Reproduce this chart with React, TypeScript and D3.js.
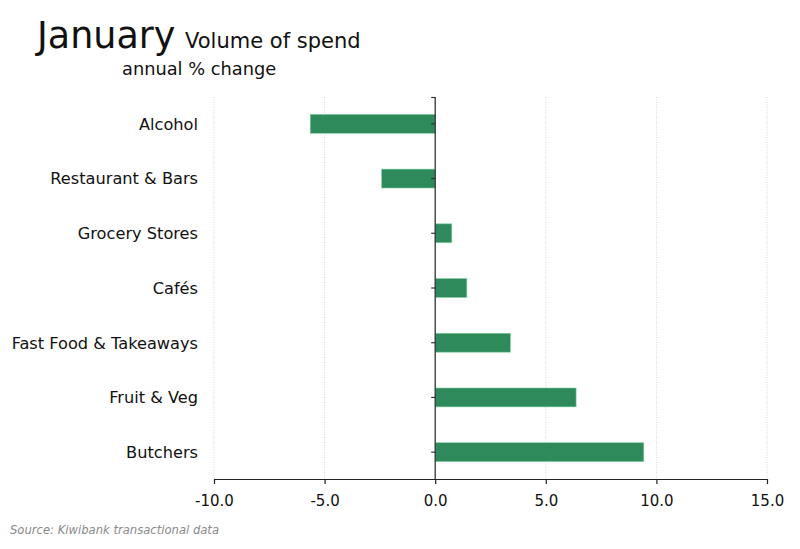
import React, { useRef, useEffect } from "react";
import * as d3 from "d3";

// data
const categories = [
  "Alcohol",
  "Restaurant & Bars",
  "Grocery Stores",
  "Cafés",
  "Fast Food & Takeaways",
  "Fruit & Veg",
  "Butchers",
];
const values = [-5.65, -2.42, 0.75, 1.43, 3.4, 6.37, 9.43];
const xTicks = [-10, -5, 0, 5, 10, 15];

const FONT = "'Century Gothic', 'DejaVu Sans', sans-serif";
const BAR = "#2e8a5b";

export default function App() {
  const svgRef = useRef<SVGSVGElement>(null);

  useEffect(() => {
    if (!svgRef.current) return;
    const svg = d3.select(svgRef.current);
    svg.selectAll("*").remove();

    const width = 800;
    const margin = { top: 97, right: 33, left: 214 };
    const innerW = width - margin.left - margin.right;
    const innerH = 382;

    const x = d3.scaleLinear().domain([-10, 15]).range([0, innerW]);
    const y = d3
      .scaleBand<string>()
      .domain(categories)
      .range([0, innerH])
      .paddingInner(0.655)
      .paddingOuter(0.318);

    svg.attr("font-family", FONT);

    // titles
    svg
      .append("text")
      .attr("x", 37)
      .attr("y", 48)
      .attr("font-size", 36.5)
      .attr("fill", "#111")
      .text("January");
    svg
      .append("text")
      .attr("x", 185)
      .attr("y", 48)
      .attr("font-size", 21)
      .attr("fill", "#111")
      .text("Volume of spend");
    svg
      .append("text")
      .attr("x", 122)
      .attr("y", 75)
      .attr("font-size", 17.8)
      .attr("fill", "#111")
      .text("annual % change");

    const g = svg
      .append("g")
      .attr("transform", `translate(${margin.left},${margin.top})`);

    // dotted gridlines
    g.selectAll(".grid")
      .data(xTicks.filter((t) => t !== 0))
      .enter()
      .append("line")
      .attr("x1", (d) => x(d))
      .attr("x2", (d) => x(d))
      .attr("y1", 0)
      .attr("y2", innerH)
      .attr("stroke", "#d6d6d6")
      .attr("stroke-width", 1)
      .attr("stroke-dasharray", "1,1.5");

    // bars
    g.selectAll(".bar")
      .data(values)
      .enter()
      .append("rect")
      .attr("x", (d) => x(Math.min(0, d)))
      .attr("y", (d, i) => y(categories[i])!)
      .attr("width", (d) => Math.abs(x(d) - x(0)))
      .attr("height", y.bandwidth())
      .attr("fill", BAR)
      .attr("stroke", "#7fcf9f")
      .attr("stroke-width", 0.6);

    // x axis
    const fmt = d3.format(".1f");
    const xAxis = d3
      .axisBottom(x)
      .tickValues(xTicks)
      .tickSize(5)
      .tickSizeOuter(0)
      .tickFormat((d) => fmt(d as number).replace("\u2212", "-"));
    const ax = g
      .append("g")
      .attr("transform", `translate(0,${innerH})`)
      .call(xAxis);
    ax.select(".domain").attr("stroke", "#222").attr("stroke-width", 1.2);
    ax.selectAll(".tick line").attr("stroke", "#222").attr("stroke-width", 1.2);
    ax.selectAll(".tick text")
      .attr("font-family", FONT)
      .attr("font-size", 15)
      .attr("fill", "#111")
      .attr("y", 11)
      .attr("dy", "1.05em");

    // y axis at zero
    const zeroG = g.append("g").attr("transform", `translate(${x(0)},0)`);
    zeroG
      .append("line")
      .attr("y1", 0)
      .attr("y2", innerH)
      .attr("stroke", "#333")
      .attr("stroke-width", 1.3);
    zeroG
      .append("line")
      .attr("x1", -4)
      .attr("x2", 0)
      .attr("y1", 0.5)
      .attr("y2", 0.5)
      .attr("stroke", "#333")
      .attr("stroke-width", 1.2);
    zeroG
      .selectAll(".ytick")
      .data(categories)
      .enter()
      .append("line")
      .attr("x1", -4)
      .attr("x2", 0)
      .attr("y1", (d) => y(d)! + y.bandwidth() / 2)
      .attr("y2", (d) => y(d)! + y.bandwidth() / 2)
      .attr("stroke", "#333")
      .attr("stroke-width", 1.2);

    // category labels
    g.selectAll(".cat")
      .data(categories)
      .enter()
      .append("text")
      .attr("x", -16)
      .attr("y", (d) => y(d)! + y.bandwidth() / 2)
      .attr("dy", "0.36em")
      .attr("text-anchor", "end")
      .attr("font-size", 16.2)
      .attr("fill", "#111")
      .text((d) => d);

    // source
    svg
      .append("text")
      .attr("x", 10)
      .attr("y", 534)
      .attr("font-size", 11.6)
      .attr("font-style", "italic")
      .attr("fill", "#8a8a8a")
      .text("Source: Kiwibank transactional data");
  }, []);

  return (
    <svg
      ref={svgRef}
      width={800}
      height={549}
      style={{ position: "absolute", left: 0, top: 0, background: "#fff" }}
    />
  );
}
